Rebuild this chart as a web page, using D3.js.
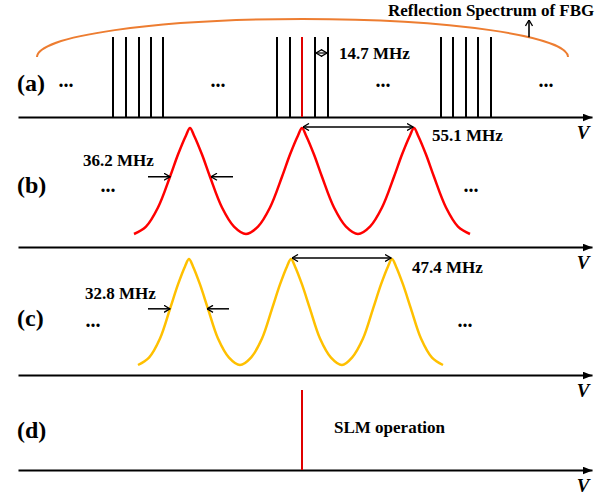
<!DOCTYPE html>
<html>
<head>
<meta charset="utf-8">
<script src="https://cdn.jsdelivr.net/npm/d3@7"></script>
<style>
body { margin: 0; background: #fff; }
text { font-family: "Liberation Serif", "Times New Roman", serif; font-weight: bold; fill: #000; }
</style>
</head>
<body>
<script>
// ---- data (relative frequency offsets, 0 = lasing mode) ----
const combLines = [-189, -176, -163, -151, -139, -25, -12, 13, 26, 139, 151, 164, 176, 189];
const slmLine = 0;
const fbgBand = [-265, 266];
const fbgEdgeLevel = 0.75, fbgTopLevel = 1.225;

// filter (b): transmission
const filterBX = [-168, -156, -144, -132, -124, -116, -112, -108, -100, -92, -80, -68, -56, -44, -32, -20, -12, -4, 0, 4, 12, 20, 32, 44, 56, 68, 80, 92, 100, 108, 112, 116, 124, 132, 144, 156, 168];
const filterBH = [0, 0.07, 0.25, 0.54, 0.75, 0.93, 1, 0.93, 0.75, 0.54, 0.25, 0.07, 0, 0.07, 0.25, 0.54, 0.75, 0.93, 1, 0.93, 0.75, 0.54, 0.25, 0.07, 0, 0.07, 0.25, 0.54, 0.75, 0.93, 1, 0.93, 0.75, 0.54, 0.25, 0.07, 0];
// filter (c)
const filterCX = [-164, -153, -142, -132, -124, -117, -113, -109, -102, -94, -84, -73, -62, -51, -40, -30, -22, -15, -11, -7, 0, 8, 18, 29, 40, 50, 61, 71, 79, 86, 90, 94, 101, 109, 119, 130, 141];
const filterCH = [0, 0.07, 0.25, 0.53, 0.76, 0.93, 1, 0.93, 0.76, 0.53, 0.25, 0.07, 0, 0.07, 0.25, 0.53, 0.76, 0.93, 1, 0.93, 0.76, 0.53, 0.25, 0.07, 0, 0.07, 0.25, 0.53, 0.76, 0.93, 1, 0.93, 0.76, 0.53, 0.25, 0.07, 0];

const peaksB = [-112, 0, 112];
const peaksC = [-113, -11, 90];
const fwhmB = [-132, -91];
const fwhmC = [-132, -95];

const labels = ["(a)", "(b)", "(c)", "(d)"];
const spacingText = "14.7 MHz";
const fsrB = "55.1 MHz", fwhmBText = "36.2 MHz";
const fsrC = "47.4 MHz", fwhmCText = "32.8 MHz";
const dotsA = [-236, -84, 81, 244], dotsB = [-194, 169], dotsC = [-209, 163];

// ---- layout ----
const width = 604, height = 497;
const axisY = [117, 247, 375, 470];

const svg = d3.select("body").append("svg")
    .attr("width", width)
    .attr("height", height);

const x = d3.scaleLinear().domain([-284, 290]).range([18, 592]);

// vertical scales, one per panel
const yA = d3.scaleLinear().domain([0, 1]).range([117, 37]);
const yB = d3.scaleLinear().domain([0, 1]).range([234, 128]);
const yC = d3.scaleLinear().domain([0, 1]).range([365, 259]);
const yD = d3.scaleLinear().domain([0, 1]).range([470, 390]);

// markers
const defs = svg.append("defs");
defs.append("marker")
    .attr("id", "axisHead")
    .attr("viewBox", "0 0 10 8")
    .attr("refX", 10).attr("refY", 4)
    .attr("markerWidth", 10).attr("markerHeight", 8)
    .attr("markerUnits", "userSpaceOnUse")
    .attr("orient", "auto")
    .append("path").attr("d", "M0,0L10,4L0,8Z").attr("fill", "#000");
defs.append("marker")
    .attr("id", "chev")
    .attr("viewBox", "0 0 7 8")
    .attr("refX", 6.5).attr("refY", 4)
    .attr("markerWidth", 7).attr("markerHeight", 8)
    .attr("markerUnits", "userSpaceOnUse")
    .attr("orient", "auto-start-reverse")
    .append("path").attr("d", "M0.5,0.5L6.5,4L0.5,7.5")
    .attr("fill", "none").attr("stroke", "#000").attr("stroke-width", 1.3);

// frequency axes
axisY.forEach(y => {
    svg.append("g")
        .attr("transform", `translate(0,${y})`)
        .call(d3.axisBottom(x).tickValues([]).tickSizeOuter(0))
        .call(g => g.select(".domain")
            .attr("stroke", "#000")
            .attr("stroke-width", 2)
            .attr("marker-end", "url(#axisHead)"));
    svg.append("text")
        .attr("x", 583).attr("y", y + 22)
        .attr("text-anchor", "middle")
        .style("font-style", "italic")
        .style("font-size", "19px")
        .text("V");
});

// panel labels
labels.forEach((t, i) => {
    svg.append("text")
        .attr("x", 17).attr("y", [91, 193, 326, 438][i])
        .style("font-size", "24px")
        .text(t);
});

// ---- (a) longitudinal modes + FBG reflection ----
svg.selectAll("line.comb")
    .data(combLines)
    .enter().append("line")
    .attr("class", "comb")
    .attr("x1", d => x(d)).attr("x2", d => x(d))
    .attr("y1", yA(0)).attr("y2", yA(1))
    .attr("stroke", "#000").attr("stroke-width", 2);

svg.append("line")
    .attr("x1", x(slmLine)).attr("x2", x(slmLine))
    .attr("y1", yA(0)).attr("y2", yA(1))
    .attr("stroke", "#e00000").attr("stroke-width", 2);

const fx0 = x(fbgBand[0]), fx1 = x(fbgBand[1]);
const rx = (fx1 - fx0) / 2, ry = yA(fbgEdgeLevel) - yA(fbgTopLevel);
svg.append("path")
    .attr("d", `M${fx0},${yA(fbgEdgeLevel)} A${rx},${ry} 0 0 1 ${fx1},${yA(fbgEdgeLevel)}`)
    .attr("fill", "none")
    .attr("stroke", "#ed7d31")
    .attr("stroke-width", 2);

// pointer to the FBG curve
const px = x(227), cx = (fx0 + fx1) / 2;
const arcY = yA(fbgEdgeLevel) - ry * Math.sqrt(1 - Math.pow((px - cx) / rx, 2));
svg.append("line")
    .attr("x1", px).attr("x2", px)
    .attr("y1", arcY).attr("y2", yA(fbgTopLevel) + 1)
    .attr("stroke", "#000").attr("stroke-width", 1.6)
    .attr("marker-end", "url(#chev)");
svg.append("text")
    .attr("x", 388).attr("y", 16)
    .style("font-size", "17px")
    .text("Reflection Spectrum of FBG");

// mode spacing
svg.append("line")
    .attr("x1", x(combLines[7]) + 1).attr("x2", x(combLines[8]) - 1)
    .attr("y1", 53).attr("y2", 53)
    .attr("stroke", "#000").attr("stroke-width", 1.2)
    .attr("marker-start", "url(#chev)").attr("marker-end", "url(#chev)");
svg.append("text")
    .attr("x", 339).attr("y", 59)
    .style("font-size", "17px")
    .text(spacingText);

// ---- filter curves ----
const drawFilter = (xs, hs, ys, color) => {
    const line = d3.line()
        .x(d => x(d[0]))
        .y(d => ys(d[1]))
        .curve(d3.curveCatmullRom.alpha(0.5));
    svg.append("path")
        .datum(d3.zip(xs, hs))
        .attr("d", line)
        .attr("fill", "none")
        .attr("stroke", color)
        .attr("stroke-width", 2.5);
};
drawFilter(filterBX, filterBH, yB, "#ff0000");
drawFilter(filterCX, filterCH, yC, "#ffc000");

// FSR arrows
const fsrArrow = (p0, p1, y) => svg.append("line")
    .attr("x1", x(p0) + 1).attr("x2", x(p1) - 1)
    .attr("y1", y).attr("y2", y)
    .attr("stroke", "#000").attr("stroke-width", 1.5)
    .attr("marker-start", "url(#chev)").attr("marker-end", "url(#chev)");
fsrArrow(peaksB[1], peaksB[2], yB(1) - 1);
fsrArrow(peaksC[1], peaksC[2], yC(1) - 1);

// FWHM arrows
const fwhmArrows = (pair, y) => {
    svg.append("line")
        .attr("x1", x(pair[0]) - 22).attr("x2", x(pair[0]))
        .attr("y1", y).attr("y2", y)
        .attr("stroke", "#000").attr("stroke-width", 1.5)
        .attr("marker-end", "url(#chev)");
    svg.append("line")
        .attr("x1", x(pair[1]) + 22).attr("x2", x(pair[1]))
        .attr("y1", y).attr("y2", y)
        .attr("stroke", "#000").attr("stroke-width", 1.5)
        .attr("marker-end", "url(#chev)");
};
fwhmArrows(fwhmB, yB(0.54));
fwhmArrows(fwhmC, yC(0.53));

svg.append("text").attr("x", 432).attr("y", 141).style("font-size", "17px").text(fsrB);
svg.append("text").attr("x", 83).attr("y", 166).style("font-size", "17px").text(fwhmBText);
svg.append("text").attr("x", 412).attr("y", 273).style("font-size", "17px").text(fsrC);
svg.append("text").attr("x", 85).attr("y", 299).style("font-size", "17px").text(fwhmCText);

// ellipses
const dots = (arr, y) => arr.forEach(d => svg.append("text")
    .attr("x", x(d)).attr("y", y)
    .attr("text-anchor", "middle")
    .style("font-size", "20px")
    .text("..."));
dots(dotsA, 87);
dots(dotsB, 192);
dots(dotsC, 327);

// ---- (d) single longitudinal mode ----
svg.append("line")
    .attr("x1", x(slmLine)).attr("x2", x(slmLine))
    .attr("y1", yD(0)).attr("y2", yD(1))
    .attr("stroke", "#e00000").attr("stroke-width", 2);
svg.append("text")
    .attr("x", 334).attr("y", 433)
    .style("font-size", "17px")
    .text("SLM operation");
</script>
</body>
</html>
